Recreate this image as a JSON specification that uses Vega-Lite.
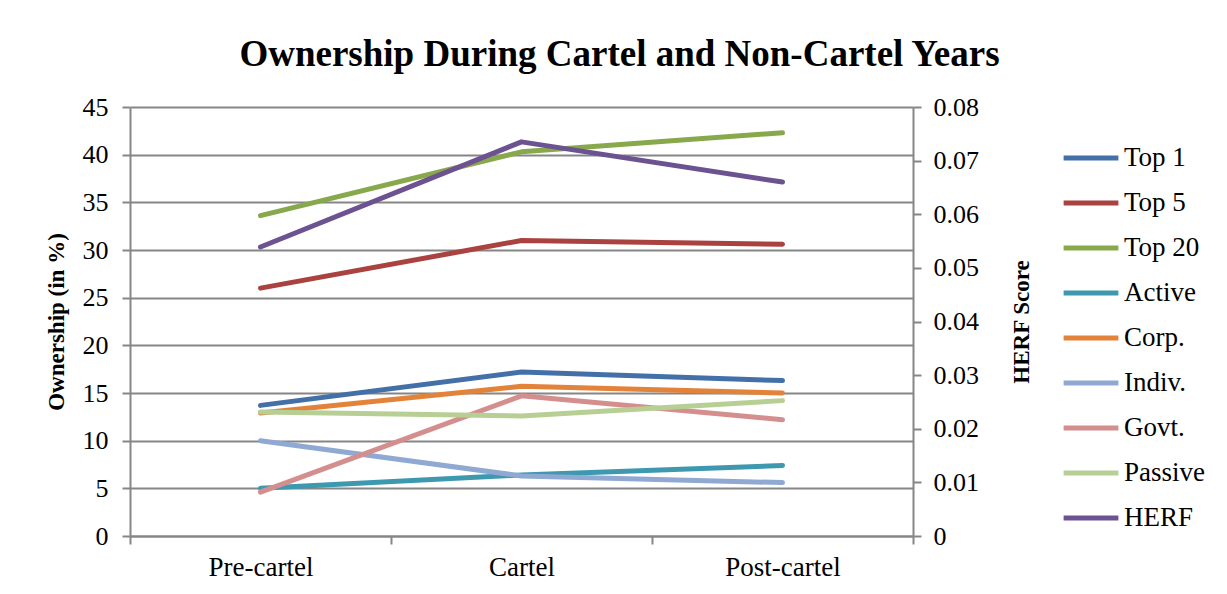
{
  "$schema": "https://vega.github.io/schema/vega-lite/v6.json",
  "width": 783,
  "height": 429,
  "autosize": "none",
  "padding": {"left": 130, "top": 107, "right": 314, "bottom": 58},
  "background": "white",
  "config": {
    "font": "Liberation Serif",
    "view": {"stroke": null},
    "axis": {"labelFont": "Liberation Serif", "titleFont": "Liberation Serif", "labelFontSize": 26, "titleFontSize": 23, "labelColor": "black", "titleColor": "black", "domainColor": "#868686", "tickColor": "#868686", "domainWidth": 2, "tickWidth": 2, "gridColor": "#868686", "gridWidth": 2}
  },
  "title": {"text": "Ownership During Cartel and Non-Cartel Years", "font": "Liberation Serif", "fontSize": 37, "fontWeight": "bold", "color": "black", "anchor": "middle", "dx": 98, "offset": 20},
  "datasets": {
    "d": [
      {"period": "Pre-cartel", "series": "Top 1", "value": 13.7},
      {"period": "Cartel", "series": "Top 1", "value": 17.2},
      {"period": "Post-cartel", "series": "Top 1", "value": 16.3},
      {"period": "Pre-cartel", "series": "Top 5", "value": 26.0},
      {"period": "Cartel", "series": "Top 5", "value": 31.0},
      {"period": "Post-cartel", "series": "Top 5", "value": 30.6},
      {"period": "Pre-cartel", "series": "Top 20", "value": 33.6},
      {"period": "Cartel", "series": "Top 20", "value": 40.3},
      {"period": "Post-cartel", "series": "Top 20", "value": 42.3},
      {"period": "Pre-cartel", "series": "Active", "value": 5.0},
      {"period": "Cartel", "series": "Active", "value": 6.4},
      {"period": "Post-cartel", "series": "Active", "value": 7.4},
      {"period": "Pre-cartel", "series": "Corp.", "value": 12.9},
      {"period": "Cartel", "series": "Corp.", "value": 15.7},
      {"period": "Post-cartel", "series": "Corp.", "value": 15.0},
      {"period": "Pre-cartel", "series": "Indiv.", "value": 10.0},
      {"period": "Cartel", "series": "Indiv.", "value": 6.3},
      {"period": "Post-cartel", "series": "Indiv.", "value": 5.6},
      {"period": "Pre-cartel", "series": "Govt.", "value": 4.6},
      {"period": "Cartel", "series": "Govt.", "value": 14.7},
      {"period": "Post-cartel", "series": "Govt.", "value": 12.2},
      {"period": "Pre-cartel", "series": "Passive", "value": 13.0},
      {"period": "Cartel", "series": "Passive", "value": 12.6},
      {"period": "Post-cartel", "series": "Passive", "value": 14.2}
    ],
    "h": [
      {"period": "Pre-cartel", "series": "HERF", "value": 0.0539},
      {"period": "Cartel", "series": "HERF", "value": 0.0735},
      {"period": "Post-cartel", "series": "HERF", "value": 0.066}
    ]
  },
  "encoding": {
    "x": {"field": "period", "type": "nominal", "sort": ["Pre-cartel", "Cartel", "Post-cartel"], "bandPosition": 0.5,
      "scale": {"paddingInner": 0, "paddingOuter": 0},
      "axis": {"title": null, "labelAngle": 0, "labelFontSize": 27, "tickBand": "extent", "tickSize": 8, "labelPadding": 10, "grid": false, "domainWidth": 2}},
    "color": {"field": "series", "type": "nominal",
      "scale": {"domain": ["Top 1", "Top 5", "Top 20", "Active", "Corp.", "Indiv.", "Govt.", "Passive", "HERF"],
        "range": ["#4470A8", "#AA4340", "#88A84C", "#3E98B0", "#E3833A", "#8FA9D2", "#D48E8D", "#B7CF95", "#6D5291"]},
      "legend": {"title": null, "orient": "none", "legendX": 931, "legendY": 21, "symbolType": "stroke", "symbolSize": 3000, "symbolStrokeWidth": 5, "labelFont": "Liberation Serif", "labelFontSize": 27, "labelColor": "black", "rowPadding": 2, "labelOffset": 3}}
  },
  "layer": [
    {
      "data": {"name": "d"},
      "mark": {"type": "line", "strokeWidth": 5, "strokeCap": "round", "strokeJoin": "round"},
      "encoding": {
        "y": {"field": "value", "type": "quantitative", "scale": {"domain": [0, 45]},
          "axis": {"title": "Ownership (in %)", "titleFontWeight": "bold", "values": [0,5,10,15,20,25,30,35,40,45], "tickSize": 8, "labelPadding": 14, "titlePadding": 14, "grid": true}}
      }
    },
    {
      "data": {"name": "h"},
      "mark": {"type": "line", "strokeWidth": 5, "strokeCap": "round", "strokeJoin": "round"},
      "encoding": {
        "y": {"field": "value", "type": "quantitative", "scale": {"domain": [0, 0.08]},
          "axis": {"orient": "right", "title": "HERF Score", "titleFontWeight": "bold", "titleAngle": 270, "values": [0,0.01,0.02,0.03,0.04,0.05,0.06,0.07,0.08], "format": "~g", "tickSize": 8, "labelPadding": 12, "titlePadding": 55, "grid": false}}
      }
    }
  ],
  "resolve": {"scale": {"y": "independent"}}
}
